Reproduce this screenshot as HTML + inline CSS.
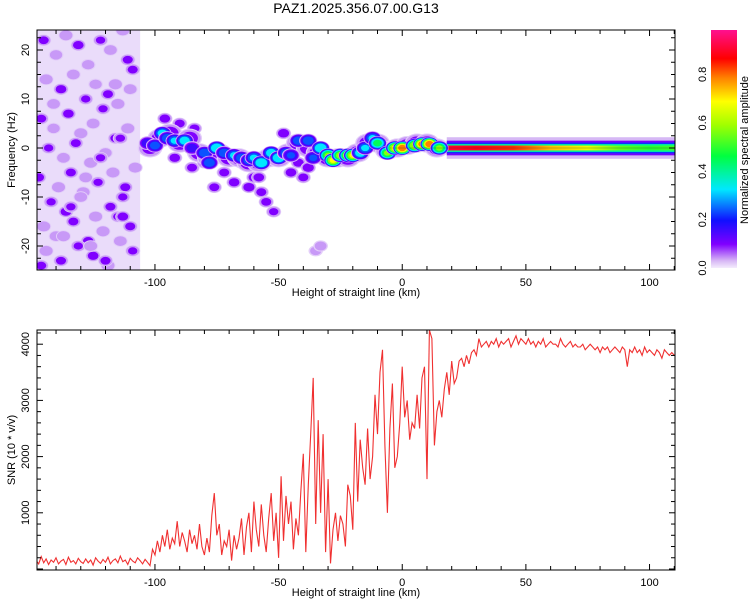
<!DOCTYPE html>
<html><head><meta charset="utf-8"><style>
body{margin:0;background:#fff;font-family:"Liberation Sans",sans-serif}
svg text{font-family:"Liberation Sans",sans-serif;fill:#000}
</style></head><body>
<svg id="c" width="750" height="600" xmlns="http://www.w3.org/2000/svg">
<text x="356" y="13" font-size="14" text-anchor="middle">PAZ1.2025.356.07.00.G13</text>
<defs>
<linearGradient id="cbg" x1="0" y1="1" x2="0" y2="0">
<stop offset="0" stop-color="#f4ecfc"/><stop offset="0.03" stop-color="#d8b8f5"/><stop offset="0.1" stop-color="#8000ff"/>
<stop offset="0.2" stop-color="#1010ff"/><stop offset="0.33" stop-color="#00e8ff"/><stop offset="0.47" stop-color="#00ff40"/>
<stop offset="0.6" stop-color="#a0ff00"/><stop offset="0.7" stop-color="#ffff00"/><stop offset="0.8" stop-color="#ff8000"/>
<stop offset="0.88" stop-color="#ff0000"/><stop offset="1" stop-color="#ff1090"/></linearGradient>
<clipPath id="cp1"><rect x="37" y="30" width="638" height="240"/></clipPath>
<clipPath id="cp2"><rect x="37" y="330" width="638" height="240"/></clipPath>
</defs>
<g id="spec" clip-path="url(#cp1)"></g>
<g id="snr" clip-path="url(#cp2)"></g>
<g id="axes"></g>
<rect x="711" y="30" width="26" height="238" fill="url(#cbg)"/>
<g id="cbar"></g>
</svg>
<script>
// ---- data ----
const noiseX=[-145,-140,-136,-131,-127,-122,-118,-113,-109,-144,-138,-133,-128,-124,-119,-115,-110,-146,-141,-135,-130,-125,-121,-116,-111,-143,-137,-132,-126,-120,-114,-108,-147,-139,-134,-129,-123,-117,-112,-142,-136,-130,-124,-118,-113,-145,-140,-133,-127,-121,-115,-110,-144,-138,-131,-125,-119,-114,-109,-146,-137,-128,-122,-116,-111,-141,-134,-126,-120,-113,-96,-90,-85,-80,-72,-68,-62,-60,-57,-55,-52,-45,-40,-35,-33,-48,-42,-76,-84,-92,-65,-58,-38];
const noiseF=[22,19,23,21,17,22,20,24,16,14,12,15,10,13,11,9,12,6,4,7,3,5,8,2,4,0,-2,1,-3,-1,2,-4,-6,-8,-5,-9,-7,-5,-8,-11,-13,-10,-14,-12,-10,-16,-18,-15,-19,-17,-14,-16,-21,-23,-20,-22,-24,-19,-21,-24,-18,-6,-2,13,18,9,-12,-20,-23,-14,6,5,-4,-3,-5,-7,-8,-6,-9,-11,-13,-5,-6,-21,-20,3,-3,-8,4,-2,-3,-6,-4];
const noiseA=[0.12,0.08,0.1,0.13,0.08,0.11,0.09,0.1,0.12,0.1,0.13,0.09,0.11,0.08,0.12,0.1,0.09,0.12,0.08,0.13,0.1,0.09,0.11,0.12,0.1,0.11,0.09,0.12,0.1,0.08,0.11,0.1,0.13,0.1,0.12,0.09,0.11,0.1,0.12,0.11,0.13,0.09,0.1,0.12,0.11,0.1,0.09,0.12,0.13,0.1,0.11,0.12,0.1,0.12,0.11,0.13,0.1,0.09,0.11,0.12,0.1,0.09,0.11,0.1,0.12,0.09,0.11,0.1,0.12,0.13,0.13,0.12,0.12,0.12,0.12,0.13,0.14,0.13,0.12,0.12,0.11,0.13,0.12,0.06,0.07,0.14,0.13,0.12,0.12,0.13,0.14,0.13,0.14];
const hazeX=[-102,-98,-94,-90,-86,-82,-78,-74,-70,-66,-62,-58,-54,-50,-46,-42,-38,-34,-30,-26,-22,-18,-14,-10,-6,-2,2,6,10,14];
const hazeF=[0,2,3,1,2,-1,-2,-1,-2,-2,-3,-3,-2,-2,-1,1,0,-1,-2,-2,-2,-1,1,1,-0.5,0,0.5,1,1,0];
const hazeA=[0.12,0.13,0.14,0.14,0.13,0.14,0.13,0.13,0.14,0.13,0.14,0.13,0.12,0.14,0.14,0.14,0.13,0.14,0.15,0.16,0.15,0.14,0.13,0.14,0.13,0.14,0.13,0.14,0.14,0.13];
const ridgeX=[-103,-100,-97,-95,-92,-88,-85,-80,-78,-75,-72,-68,-65,-62,-60,-57,-53,-50,-47,-45,-42,-38,-36,-33,-30,-28,-25,-22,-20,-17,-15,-12,-10,-6,-3,0,5,8,11,15];
const ridgeF=[1,0.5,3,2,1.5,1.5,0,-1,-3,0,-1,-1.5,-2,-2.5,-2,-3,-1,-2,-1,-1.5,1.5,1.5,-2,0,-1.5,-2.5,-1.5,-1.5,-1.5,-1,0,2,1,-1,0,0,0.5,0.8,0.8,0];
const ridgeA=[0.22,0.28,0.38,0.3,0.35,0.4,0.2,0.3,0.3,0.45,0.3,0.35,0.3,0.3,0.35,0.45,0.4,0.45,0.3,0.25,0.3,0.3,0.25,0.45,0.6,0.72,0.65,0.7,0.72,0.4,0.35,0.35,0.5,0.6,0.72,0.88,0.7,0.85,0.88,0.6];
const bandX=[18,30,45,60,75,88,100,110];
const bandA=[0.92,0.9,0.85,0.75,0.68,0.55,0.5,0.52];
const snrStart=-148;
const snrVals=[150,90,220,110,180,80,160,120,200,90,140,170,80,210,120,150,90,190,130,100,
180,110,160,70,200,140,100,170,120,210,90,150,180,110,230,130,160,80,190,140,
110,200,150,90,170,120,60,350,250,500,300,600,400,700,350,550,450,850,400,650,
500,300,700,450,600,350,800,400,250,550,300,950,1350,600,800,250,500,400,700,150,
600,350,550,900,250,750,1000,300,1200,700,400,1150,600,300,900,1350,500,1000,200,1650,
500,1300,800,1200,350,900,600,1400,2050,300,1500,2400,3400,800,2650,1000,2400,300,1600,100,
700,1000,500,950,800,400,1500,1300,700,2600,1200,2300,1800,1500,2500,1600,2000,3100,2400,3500,
3900,2200,1000,2500,3300,1800,2000,2600,3600,2700,3000,2300,2600,2500,3100,2500,3400,3600,1600,4250,
4100,2200,2800,3000,2700,3200,3500,3100,3700,3300,3400,3700,3750,3600,3800,3650,3850,3900,3800,4100,
3950,4000,4050,3950,4050,4000,4100,3950,4050,4000,4050,4100,3950,4050,4150,4000,4100,4050,4000,4100,
4000,4050,3950,4050,4000,4100,3950,4000,4050,4000,4000,3950,4100,4000,3950,4000,4050,3950,4000,3950,
3950,4000,3900,3950,4000,3950,3900,3950,3850,3950,3900,3950,3850,3900,3950,3900,3850,3950,3900,3600,
3900,3850,3950,3850,3900,3800,3950,3850,3900,3850,3800,3900,3850,3750,3900,3850,3800,3850,3800];
const xTicks=[-100,-50,0,50,100];
const fTicks=[-20,-10,0,10,20];
const sTicks=[1000,2000,3000,4000];
const cTicks=[0.0,0.2,0.4,0.6,0.8];
// ---- scales ----
const X=v=>37+(v+147.7)*(638/258);
const F=v=>148-v*4.9;
const S=v=>569-v*0.0562;
const C=v=>268-v*242;
const NS='http://www.w3.org/2000/svg';
function mk(t,a,p){const e=document.createElementNS(NS,t);for(const k in a)e.setAttribute(k,a[k]);p.appendChild(e);return e;}
const stops=[[0,[240,228,252]],[0.04,[214,184,245]],[0.1,[128,0,255]],[0.2,[16,16,255]],[0.33,[0,232,255]],[0.47,[0,255,64]],[0.6,[160,255,0]],[0.7,[255,255,0]],[0.8,[255,128,0]],[0.88,[255,0,0]],[1,[255,16,144]]];
function cmap(v){for(let i=1;i<stops.length;i++){if(v<=stops[i][0]){const a=stops[i-1],b=stops[i],t=(v-a[0])/(b[0]-a[0]);return 'rgb('+a[1].map((c,j)=>Math.round(c+(b[1][j]-c)*t)).join(',')+')';}}return 'rgb(255,16,144)';}
const spec=document.getElementById('spec');
const levels=[0.02,0.05,0.1,0.16,0.24,0.33,0.45,0.58,0.7,0.8,0.9];
function blob(x,f,a,base){levels.filter(l=>l<a).forEach(l=>{const r=base*Math.sqrt(1-l/(a+0.02))+1.2;
const e=mk('ellipse',{cx:X(x),cy:F(f),rx:r*1.3,ry:r,fill:cmap(l)},spec);

});}
// noise floor
const nf=mk('rect',{x:37,y:30,width:X(-106)-37,height:240,fill:'#dcc4f6',opacity:0.6},spec);


noiseX.forEach((x,i)=>blob(x,noiseF[i],noiseA[i],5));
hazeX.forEach((x,i)=>blob(x,hazeF[i],hazeA[i],9));
// band
const bx0=X(bandX[0]),bx1=X(bandX[bandX.length-1]);
mk('rect',{x:bx0,y:F(2.2),width:bx1-bx0+5,height:F(-2.2)-F(2.2),fill:cmap(0.04)},spec);
mk('rect',{x:bx0,y:F(1.5),width:bx1-bx0+5,height:F(-1.5)-F(1.5),fill:cmap(0.11)},spec);
mk('rect',{x:bx0,y:F(1.1),width:bx1-bx0+5,height:F(-1.1)-F(1.1),fill:cmap(0.22)},spec);
mk('rect',{x:bx0,y:F(0.8),width:bx1-bx0+5,height:F(-0.8)-F(0.8),fill:cmap(0.4)},spec);
const g=mk('linearGradient',{id:'bandg',gradientUnits:'userSpaceOnUse',x1:bx0,x2:bx1,y1:0,y2:0},document.querySelector('defs'));
bandX.forEach((x,i)=>mk('stop',{offset:(X(x)-bx0)/(bx1-bx0),'stop-color':cmap(bandA[i])},g));
const core=mk('rect',{x:bx0,y:F(0.5),width:bx1-bx0+5,height:F(-0.5)-F(0.5),fill:'url(#bandg)'},spec);


ridgeX.forEach((x,i)=>blob(x,ridgeF[i],ridgeA[i],6));
mk('line',{x1:X(-5),x2:X(112),y1:F(0),y2:F(0),stroke:'#202020','stroke-width':0.6,opacity:0.5},spec);
// snr line
const snr=document.getElementById('snr');
const pts=snrVals.map((v,i)=>X(snrStart+i).toFixed(1)+','+S(v).toFixed(1)).join(' ');
const pl=mk('polyline',{points:pts,fill:'none',stroke:'#f03030','stroke-width':1.1},snr);


// axes
const ax=document.getElementById('axes');
function frame(y0,name){const r=mk('rect',{x:37,y:y0,width:638,height:240,fill:'none',stroke:'#000','stroke-width':1},ax);


for(let v=-140;v<=110;v+=10){const x=X(v),L=v%50===0?6:4;
mk('line',{x1:x,x2:x,y1:y0,y2:y0+L,stroke:'#000'},ax);mk('line',{x1:x,x2:x,y1:y0+240,y2:y0+240-L,stroke:'#000'},ax);}
xTicks.forEach(v=>{const t=mk('text',{x:X(v),y:y0+256,'font-size':11,'text-anchor':'middle'},ax);t.textContent=v;

});
const xt=mk('text',{x:356,y:y0+266,'font-size':11,'text-anchor':'middle'},ax);xt.textContent='Height of straight line (km)';

}
frame(30,'spectrogram-frame');frame(330,'snr-frame');
function yt(fn,lo,hi,step,major,labels,y0){for(let v=lo;v<=hi;v+=step){const y=fn(v);if(y<y0||y>y0+240)continue;const L=(Math.abs(v)%major<1e-6)?6:4;
mk('line',{x1:37,x2:37+L,y1:y,y2:y,stroke:'#000'},ax);mk('line',{x1:675,x2:675-L,y1:y,y2:y,stroke:'#000'},ax);}
labels.forEach(v=>{const y=fn(v);const t=mk('text',{x:0,y:0,'font-size':11,'text-anchor':'middle',transform:`translate(29,${y}) rotate(-90)`},ax);t.textContent=v;

});}
yt(F,-25,25,2.5,10,fTicks,30);
yt(S,0,4400,200,1000,sTicks,330);
const y1=mk('text',{x:0,y:0,'font-size':11,'text-anchor':'middle',transform:'translate(15,150) rotate(-90)'},ax);y1.textContent='Frequency (Hz)';


const y2=mk('text',{x:0,y:0,'font-size':11,'text-anchor':'middle',transform:'translate(15,450) rotate(-90)'},ax);y2.textContent='SNR (10 * v/v)';


const cb=document.getElementById('cbar');
cTicks.forEach(v=>{const t=mk('text',{x:0,y:0,'font-size':11,'text-anchor':'middle',transform:`translate(706,${C(v)}) rotate(-90)`},cb);t.textContent=v.toFixed(1);

});
const ct=mk('text',{x:0,y:0,'font-size':11,'text-anchor':'middle',transform:'translate(748,150) rotate(-90)'},cb);


ct.textContent='Normalized spectral amplitude';
</script>
</body></html>
